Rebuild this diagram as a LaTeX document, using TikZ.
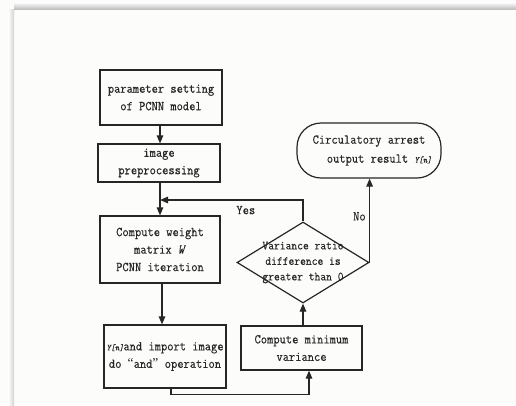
\documentclass[tikz,border=0pt]{standalone}
\usepackage{fontspec}
\usepackage{tikz}
\usetikzlibrary{shapes.geometric, arrows.meta, positioning, calc}
\usepackage{xcolor}

\newfontfamily\flowfont[FakeStretch=0.9, FakeBold=0.3]{Latin Modern Mono}
\newfontfamily\quotefont{Liberation Serif}
\definecolor{linegray}{HTML}{262626}
\definecolor{pagebg}{HTML}{FCFCFA}
\newcommand{\yn}{{\fontsize{9}{9}\selectfont\itshape Y[n]}}

\begin{document}
\begin{tikzpicture}[
    x=1pt, y=-1pt,
    box/.style = {rectangle, draw=linegray, line width=1.2pt, align=center, text=linegray, font=\flowfont\fontsize{13.5}{17.5}\selectfont, inner sep=2pt},
    decision/.style = {diamond, draw=linegray, line width=1.2pt, inner sep=0pt, minimum width=132pt, minimum height=81pt},
    terminal/.style = {rectangle, rounded corners=24pt, draw=linegray, line width=1.2pt, align=center, text=linegray, font=\flowfont\fontsize{13.5}{19}\selectfont, minimum width=144pt, minimum height=55pt},
    tag/.style = {text=linegray, font=\flowfont\fontsize{13.5}{15}\selectfont},
    arrow/.style = {draw=linegray, line width=1.2pt, -{Triangle[length=8pt,width=6.5pt]}}
]

% Page and its shadow
\useasboundingbox (0,0) rectangle (516,405);
\fill[pagebg] (0,0) rectangle (516,405);
\shade[top color=white, bottom color=gray!50] (14,2) rectangle (516,9);
\shade[left color=white, right color=gray!35] (8,9) rectangle (14,405);

% Left column
\node (param) [box, minimum width=122pt, minimum height=55pt] at (161, 97.5) {parameter setting\\of PCNN model};
\node (prep) [box, minimum width=122pt, minimum height=38pt] at (159, 163) {image\\preprocessing};
\node (weight) [box, minimum width=120pt, minimum height=67pt] at (160, 249.5) {Compute weight\\matrix \textit{W}\\PCNN iteration};
\node (andop) [box, minimum width=122pt, minimum height=63pt] at (165, 356.5) {\yn and import image\\do {\quotefont “}and{\quotefont ”} operation};

% Right column
\node (minvar) [box, minimum width=121pt, minimum height=44pt] at (301.5, 348) {Compute minimum\\variance};
\node (ratio) [decision, label={[align=center, text=linegray, font=\flowfont\fontsize{12.5}{15.5}\selectfont]center:Variance ratio\\difference is\\greater than 0}] at (303, 262.5) {};
\node (stop) [terminal] at (369, 150.5) {Circulatory arrest\\\hspace*{1.5em}output result \yn};

\coordinate (join) at (160, 200);

% Main flow
\draw [arrow] (param.south -| 160,0) -- (prep.north -| 160,0);
\draw [arrow] (prep.south -| 160,0) -- (weight.north -| 160,0);
\draw [arrow] (weight.south -| 162,0) -- (andop.north -| 162,0);
\draw [arrow] (andop.south -| 171,0) -- ++(0,6) -| (minvar.south -| 309,0);
\draw [arrow] (minvar.north -| ratio.south) -- (ratio.south);

% Decision outcomes
\draw [arrow] (ratio.north) |- node[tag, pos=0.70, below=2pt] {Yes} (join);
\draw [arrow] (ratio.east) -- node[tag, left, pos=0.55] {No} (ratio.east |- stop.south);

\end{tikzpicture}
\end{document}
